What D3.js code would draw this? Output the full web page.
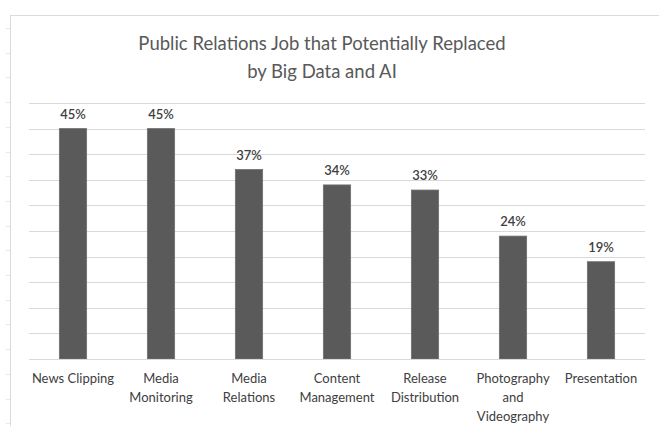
<!DOCTYPE html>
<html>
<head>
<meta charset="utf-8">
<script src="https://cdn.jsdelivr.net/npm/d3@7"></script>
<style>
  html, body { margin: 0; padding: 0; background: #fff; }
  svg { display: block; }
  text { font-family: Lato, "Open Sans", sans-serif; }
</style>
</head>
<body>
<div id="chart"></div>
<script>
const titleLines = ["Public Relations Job that Potentially Replaced", "by Big Data and AI"];

const categories = [
  "News Clipping", "Media Monitoring", "Media Relations", "Content Management",
  "Release Distribution", "Photography and Videography", "Presentation"
];
// how each category label wraps under the axis
const categoryLines = [
  ["News Clipping"], ["Media", "Monitoring"], ["Media", "Relations"], ["Content", "Management"],
  ["Release", "Distribution"], ["Photography", "and", "Videography"], ["Presentation"]
];
const values = [0.45, 0.45, 0.37, 0.34, 0.33, 0.24, 0.19];

const width = 659, height = 426;

const svg = d3.select("#chart").append("svg")
  .attr("width", width)
  .attr("height", height);

// chart frame (cropped spreadsheet chart area)
const frame = svg.append("g").attr("stroke", "#dcdcdc").attr("fill", "none");
frame.append("line").attr("x1", 10.5).attr("x2", 10.5).attr("y1", 15).attr("y2", height);
frame.append("line").attr("x1", 10).attr("x2", width).attr("y1", 15.5).attr("y2", 15.5);
frame.selectAll("line.tick")
  .data(d3.range(28, height, 24.7))
  .enter().append("line")
  .attr("class", "tick")
  .attr("x1", 6).attr("x2", 10)
  .attr("y1", function (d) { return Math.round(d) + 0.5; })
  .attr("y2", function (d) { return Math.round(d) + 0.5; })
  .attr("stroke", "#e6e6e6");

const x = d3.scaleBand()
  .domain(categories)
  .range([29, 645])
  .paddingInner(0.69)
  .paddingOuter(0.345);

const y = d3.scaleLinear()
  .domain([0, 0.5])
  .range([359, 103]);

// gridlines
svg.append("g")
  .selectAll("line")
  .data(y.ticks(10))
  .enter().append("line")
  .attr("x1", 29).attr("x2", 645)
  .attr("y1", function (d) { return Math.round(y(d)) + 0.5; })
  .attr("y2", function (d) { return Math.round(y(d)) + 0.5; })
  .attr("stroke", "#d9d9d9")
  .attr("stroke-width", 1);

// bars
svg.append("g")
  .selectAll("rect")
  .data(values)
  .enter().append("rect")
  .attr("x", function (d, i) { return x(categories[i]); })
  .attr("y", function (d) { return y(d); })
  .attr("width", x.bandwidth())
  .attr("height", function (d) { return y(0) - y(d); })
  .attr("fill", "#5a5a5a")
  .attr("stroke", "#6e6e6e")
  .attr("stroke-width", 0.8);

// value labels
svg.append("g")
  .selectAll("text")
  .data(values)
  .enter().append("text")
  .attr("x", function (d, i) { return x(categories[i]) + x.bandwidth() / 2; })
  .attr("y", function (d) { return y(d) - 10; })
  .attr("text-anchor", "middle")
  .style("font-size", "13px")
  .style("font-weight", "600")
  .style("fill", "#404040")
  .text(d3.format(".0%"));

// category axis
const xAxis = svg.append("g")
  .attr("transform", "translate(0," + y(0) + ")")
  .call(d3.axisBottom(x).tickSize(0).tickFormat(""));
xAxis.select(".domain").attr("stroke", "#d9d9d9").attr("d", "M29,0.5H645");

xAxis.selectAll(".tick text")
  .attr("y", 0)
  .attr("dy", null)
  .style("font-size", "13px")
  .style("fill", "#404040")
  .each(function (d, i) {
    const t = d3.select(this);
    categoryLines[i].forEach(function (line, k) {
      t.append("tspan")
        .attr("x", 0)
        .attr("y", 24 + k * 19)
        .text(line);
    });
  });

// title
svg.append("text")
  .attr("x", 322)
  .attr("text-anchor", "middle")
  .style("font-size", "18.5px")
  .style("fill", "#595959")
  .selectAll("tspan")
  .data(titleLines)
  .enter().append("tspan")
  .attr("x", 322)
  .attr("y", function (d, i) { return 50 + i * 28; })
  .text(function (d) { return d; });
</script>
</body>
</html>
